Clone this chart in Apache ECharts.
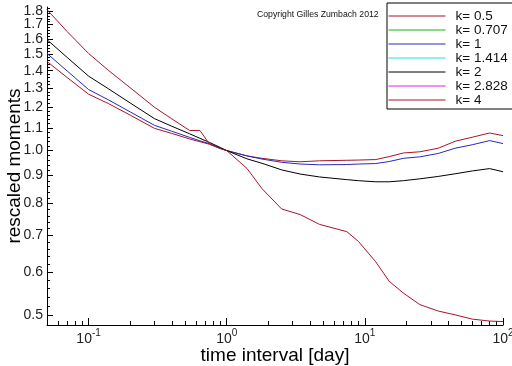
<!DOCTYPE html>
<html><head><meta charset="utf-8">
<script src="https://cdn.jsdelivr.net/npm/echarts@6/dist/echarts.min.js"></script>
<style>html,body{margin:0;padding:0;background:#fff}#c{width:512px;height:366px}</style>
</head><body><div id="c"></div>
<script>
// time interval [day]
const timeInterval = [0.05, 0.07, 0.1, 0.14, 0.2, 0.3, 0.4, 0.54, 0.64, 0.75, 0.9, 1, 1.4, 1.8, 2.5, 3.4, 4.7, 7.4, 9, 12, 15, 19, 25, 34, 45, 60, 80, 100];
// rescaled moments per k
const k05  = [1.455, 1.360, 1.268, 1.218, 1.161, 1.098, 1.075, 1.050, 1.038, 1.027, 1.009, 1.0, 0.978, 0.968, 0.958, 0.954, 0.958, 0.960, 0.961, 0.963, 0.975, 0.990, 0.995, 1.010, 1.040, 1.058, 1.077, 1.065];
const k0707 = [];
const k1   = [1.505, 1.398, 1.293, 1.237, 1.177, 1.112, 1.085, 1.057, 1.042, 1.030, 1.010, 1.0, 0.978, 0.965, 0.952, 0.945, 0.942, 0.943, 0.945, 0.947, 0.955, 0.968, 0.974, 0.988, 1.010, 1.025, 1.043, 1.030];
const k1414 = [];
const k2   = [1.595, 1.480, 1.368, 1.296, 1.222, 1.144, 1.108, 1.073, 1.053, 1.035, 1.013, 1.0, 0.966, 0.948, 0.922, 0.906, 0.895, 0.885, 0.881, 0.877, 0.877, 0.881, 0.888, 0.897, 0.907, 0.918, 0.927, 0.915];
const k2828 = [];
const k4   = [1.81, 1.65, 1.505, 1.40, 1.303, 1.20, 1.143, 1.088, 1.088, 1.028, 1.008, 1.0, 0.928, 0.852, 0.782, 0.764, 0.733, 0.711, 0.682, 0.626, 0.577, 0.549, 0.523, 0.509, 0.501, 0.492, 0.488, 0.487];

const seriesNames = ['k= 0.5', 'k= 0.707', 'k= 1', 'k= 1.414', 'k= 2', 'k= 2.828', 'k= 4'];
const seriesValues = [k05, k0707, k1, k1414, k2, k2828, k4];
const seriesColors = ['#a8142c', '#10b810', '#2a2ab8', '#20dede', '#000000', '#e020e0', '#a8142c'];

const xMajorTicks = [0.1, 1, 10, 100];
const xMinorTicks = [0.06, 0.07, 0.08, 0.09, 0.1, 0.2, 0.3, 0.4, 0.5, 0.6, 0.7, 0.8, 0.9, 1, 2, 3, 4, 5, 6, 7, 8, 9, 10, 20, 30, 40, 50, 60, 70, 80, 90, 100];
const yMajorTicks = [0.5, 0.6, 0.7, 0.8, 0.9, 1.0, 1.1, 1.2, 1.3, 1.4, 1.5, 1.6, 1.7, 1.8];
// labels split over two overlaid axes so neighbouring labels are not auto-hidden
const yLabelsA = [0.5, 0.6, 0.7, 0.8, 0.9, 1.0, 1.1, 1.2, 1.3, 1.4, 1.5, 1.6, 1.7];
const yLabelsB = [1.8];
const yMinorTicks = [];
for (let i = 24; i <= 91; i++) yMinorTicks.push(i / 50);

const FONT = '"Liberation Sans", Arial, sans-serif';
const chart = echarts.init(document.getElementById('c'), null, {renderer: 'canvas'});

const xBase = {
  type: 'log', logBase: 10, min: 0.05, max: 100, gridIndex: 0, position: 'bottom',
  splitLine: {show: false}, minorTick: {show: false}
};
const yBase = {
  type: 'log', logBase: 10, min: 0.48, max: 1.83, gridIndex: 0, position: 'left',
  splitLine: {show: false}, minorTick: {show: false}
};
const yLabelStyle = {
  show: true, margin: 4, fontSize: 14, color: '#222', fontFamily: FONT,
  showMaxLabel: true, showMinLabel: true, hideOverlap: false,
  formatter: function (v) { return v.toFixed(1); }
};

const option = {
  animation: false,
  backgroundColor: '#ffffff',
  title: {
    text: 'Copyright Gilles Zumbach 2012',
    left: 257, top: 10, padding: 0,
    textStyle: {fontSize: 8.7, fontWeight: 'normal', color: '#111', fontFamily: FONT}
  },
  legend: {
    orient: 'vertical', left: 387, top: 3,
    padding: [6, 9, 2, 1],
    itemWidth: 57, itemHeight: 12.8, itemGap: 0,
    borderColor: '#000', borderWidth: 1,
    itemStyle: {opacity: 0, borderWidth: 0},
    lineStyle: {width: 1},
    data: seriesNames,
    textStyle: {fontSize: 13.5, color: '#111', fontFamily: FONT, padding: [0, 0, 0, 5], lineHeight: 12.8}
  },
  grid: {left: 47, right: 9, top: 7, bottom: 41, containLabel: false, outerBoundsMode: 'none'},
  xAxis: [
    Object.assign({}, xBase, {
      name: 'time interval [day]', nameLocation: 'middle', nameGap: 21, nameMoveOverlap: false,
      nameTextStyle: {fontSize: 19, color: '#000', fontFamily: FONT},
      axisLine: {show: true, lineStyle: {color: '#000', width: 1}},
      axisTick: {show: true, inside: true, length: 4, customValues: xMinorTicks, lineStyle: {color: '#000'}},
      axisLabel: {
        show: true, customValues: xMajorTicks, margin: 3, showMaxLabel: true, showMinLabel: true, hideOverlap: false,
        formatter: function (v) { return '{b|10}{s|' + Math.round(Math.log10(v)) + '}'; },
        rich: {
          b: {fontSize: 14, lineHeight: 18, verticalAlign: 'bottom', color: '#222', fontFamily: FONT},
          s: {fontSize: 10, lineHeight: 10, verticalAlign: 'top', color: '#222', fontFamily: FONT}
        }
      }
    }),
    Object.assign({}, xBase, {
      axisLine: {show: false},
      axisTick: {show: true, inside: true, length: 7, customValues: xMajorTicks, lineStyle: {color: '#000'}},
      axisLabel: {show: false}
    })
  ],
  yAxis: [
    Object.assign({}, yBase, {
      name: 'rescaled moments', nameLocation: 'middle', nameGap: 23, nameRotate: 90, nameMoveOverlap: false,
      nameTextStyle: {fontSize: 19, color: '#000', fontFamily: FONT},
      axisLine: {show: true, lineStyle: {color: '#000', width: 1}},
      axisTick: {show: true, inside: true, length: 3, customValues: yMinorTicks, lineStyle: {color: '#000'}},
      axisLabel: Object.assign({}, yLabelStyle, {customValues: yLabelsA})
    }),
    Object.assign({}, yBase, {
      axisLine: {show: false},
      axisTick: {show: true, inside: true, length: 6, customValues: yMajorTicks, lineStyle: {color: '#000'}},
      axisLabel: Object.assign({}, yLabelStyle, {customValues: yLabelsB})
    })
  ],
  series: seriesNames.map(function (name, i) {
    return {
      name: name, type: 'line', xAxisIndex: 0, yAxisIndex: 0,
      symbol: 'none', smooth: false,
      color: seriesColors[i],
      lineStyle: {width: 1, color: seriesColors[i]},
      data: seriesValues[i].map(function (v, j) { return [timeInterval[j], v]; })
    };
  })
};
chart.setOption(option);
</script>
</body></html>
